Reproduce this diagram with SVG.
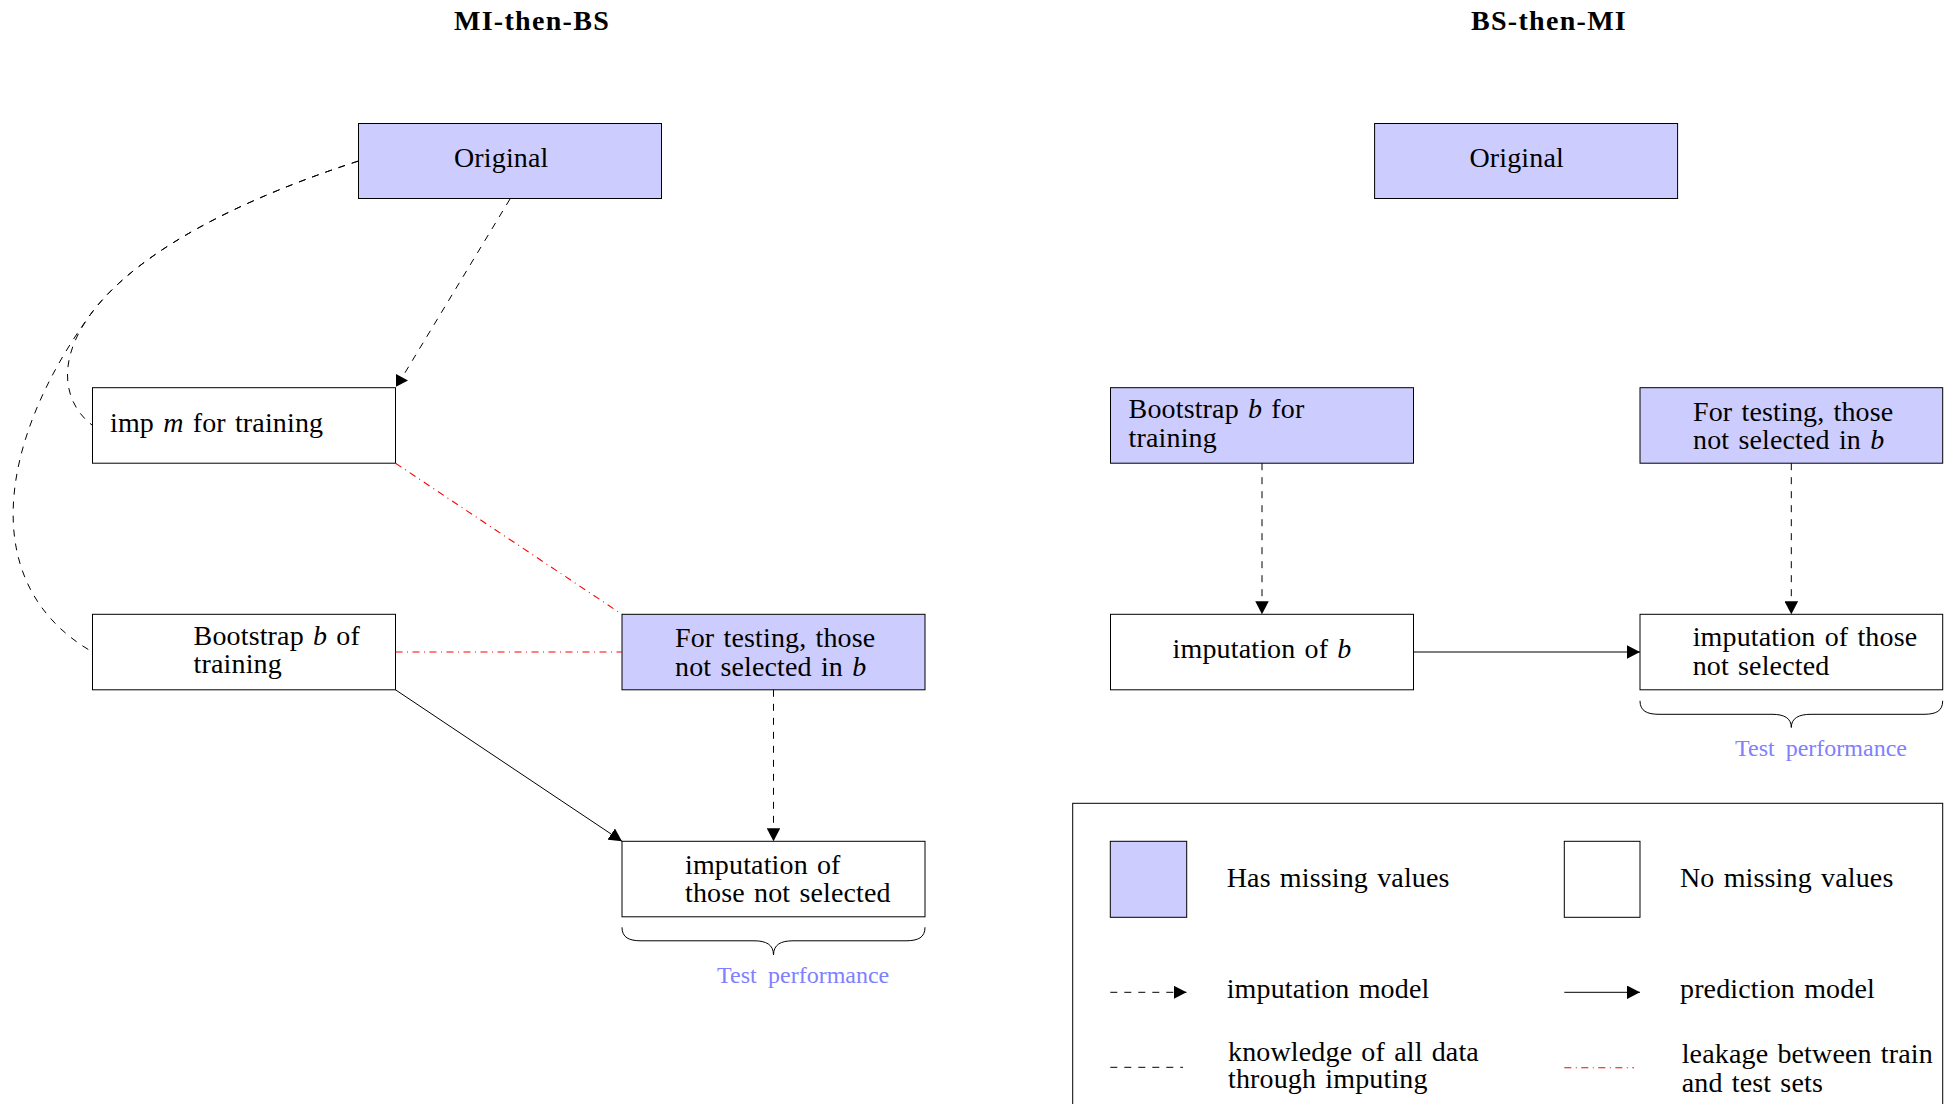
<svg xmlns="http://www.w3.org/2000/svg" width="1954" height="1104" viewBox="0 0 1954 1104">
  <style>
    .box{stroke:#000;stroke-width:1}
    .miss{fill:#ccccff}
    .full{fill:#ffffff}
    .t{font-family:"Liberation Serif","Times New Roman",serif;font-size:28px;letter-spacing:0.15px;word-spacing:2px;fill:#000}
    .title{font-weight:bold;letter-spacing:1.3px;text-anchor:middle}
    .mid{text-anchor:middle}
    .perf{font-size:24px;letter-spacing:0;word-spacing:0;fill:#8080ff}
    .c{fill:none;stroke:#000;stroke-width:1}
    .dash{stroke-dasharray:7 7}
    .leak{fill:none;stroke:#ff0000;stroke-width:1.1;stroke-dasharray:7 4.5 1 4.5}
    .brace{fill:none;stroke:#000;stroke-width:1}
  </style>
  <defs>
    <marker id="tri" viewBox="0 0 13 13.5" refX="13" refY="6.75" markerWidth="13" markerHeight="13.5" markerUnits="userSpaceOnUse" orient="auto">
      <path d="M0,0 L13,6.75 L0,13.5 z" fill="#000"/>
    </marker>
  </defs>
  <rect width="1954" height="1104" fill="#fff"/>

  <!-- panel headings -->
  <text class="t title" x="532" y="30">MI-then-BS</text>
  <text class="t title" x="1549" y="30">BS-then-MI</text>

  <!-- left panel: MI-then-BS -->
  <g id="orig-left">
    <rect class="box miss" x="358.5" y="123.5" width="303" height="75"/>
    <text class="t" x="454" y="166.5">Original</text>
  </g>
  <g id="imp-m">
    <rect class="box full" x="92.5" y="387.7" width="303" height="75.5"/>
    <text class="t" x="110" y="431.6">imp <tspan font-style="italic">m</tspan> for training</text>
  </g>
  <g id="boot-left">
    <rect class="box full" x="92.5" y="614.3" width="303" height="75.5"/>
    <text class="t" x="193.6" y="645">Bootstrap <tspan font-style="italic">b</tspan> of</text>
    <text class="t" x="193.6" y="673.3">training</text>
  </g>
  <g id="test-left">
    <rect class="box miss" x="622" y="614.3" width="303" height="75.5"/>
    <text class="t" x="675" y="647.3">For testing, those</text>
    <text class="t" x="675" y="675.8">not selected in <tspan font-style="italic">b</tspan></text>
  </g>
  <g id="impute-test-left">
    <rect class="box full" x="622" y="841.3" width="303" height="75.5"/>
    <text class="t" x="685" y="874">imputation of</text>
    <text class="t" x="685" y="902.3">those not selected</text>
  </g>
  <g id="perf-left">
    <path class="brace" d="M622,927.3 C622,937.5 629,940.8 641,940.8 L754,940.8 C766,940.8 773.5,944.5 773.5,955 C773.5,944.5 781,940.8 793,940.8 L906,940.8 C918,940.8 925,937.5 925,927.3"/>
    <text class="t perf" x="717" y="983">Test<tspan x="768">performance</tspan></text>
  </g>

  <!-- right panel: BS-then-MI -->
  <g id="orig-right">
    <rect class="box miss" x="1374.6" y="123.5" width="303" height="75"/>
    <text class="t" x="1469.4" y="166.5">Original</text>
  </g>
  <g id="boot-right">
    <rect class="box miss" x="1110.5" y="387.7" width="303" height="75.5"/>
    <text class="t" x="1128.6" y="418.4">Bootstrap <tspan font-style="italic">b</tspan> for</text>
    <text class="t" x="1128.6" y="446.8">training</text>
  </g>
  <g id="test-right">
    <rect class="box miss" x="1640" y="387.7" width="302.7" height="75.5"/>
    <text class="t" x="1693" y="420.8">For testing, those</text>
    <text class="t" x="1693" y="449">not selected in <tspan font-style="italic">b</tspan></text>
  </g>
  <g id="impute-boot">
    <rect class="box full" x="1110.5" y="614.3" width="303" height="75.5"/>
    <text class="t mid" x="1262" y="658.4">imputation of <tspan font-style="italic">b</tspan></text>
  </g>
  <g id="impute-test-right">
    <rect class="box full" x="1640" y="614.3" width="302.7" height="75.5"/>
    <text class="t" x="1692.7" y="646">imputation of those</text>
    <text class="t" x="1692.7" y="675">not selected</text>
  </g>
  <g id="perf-right">
    <path class="brace" d="M1640,700.8 C1640,711 1647,714.3 1659,714.3 L1772,714.3 C1784,714.3 1791.3,718 1791.3,727.5 C1791.3,718 1799,714.3 1811,714.3 L1924,714.3 C1936,714.3 1942.7,711 1942.7,700.8"/>
    <text class="t perf" x="1735" y="755.5">Test<tspan x="1785.7">performance</tspan></text>
  </g>

  <!-- connectors -->
  <g id="connectors">
    <!-- knowledge of all data: Original to both training sets -->
    <path class="c dash" d="M358.5,161 C206.35,210.45 125.88,266.03 90.43,314.5 C54.98,362.98 64.55,404.35 92.5,425.4"/>
    <path class="c dash" d="M358.5,161 C206.35,210.45 125.88,266.03 90.43,314.5 C-1,440.1 -24.4,584.5 92.5,652"/>
    <!-- imputation model: Original to imp m -->
    <line class="c dash" x1="510" y1="199" x2="403" y2="376"/>
    <polygon points="396,374 396,386.8 408,380.4" fill="#000"/>
    <!-- leakage links -->
    <line class="leak" x1="395.5" y1="463.2" x2="622" y2="614.3"/>
    <line class="leak" x1="395.5" y1="652" x2="622" y2="652"/>
    <!-- prediction model, left -->
    <line class="c" x1="395.5" y1="689.8" x2="622" y2="841.3" marker-end="url(#tri)"/>
    <!-- imputation model, left -->
    <line class="c dash" x1="773.5" y1="689.8" x2="773.5" y2="841.3" marker-end="url(#tri)"/>
    <!-- right panel links -->
    <line class="c dash" x1="1262" y1="463.2" x2="1262" y2="614.3" marker-end="url(#tri)"/>
    <line class="c dash" x1="1791.3" y1="463.2" x2="1791.3" y2="614.3" marker-end="url(#tri)"/>
    <line class="c" x1="1413.5" y1="652" x2="1640" y2="652" marker-end="url(#tri)"/>
  </g>

  <!-- legend -->
  <g id="legend">
    <rect x="1072.7" y="803.3" width="870" height="330" fill="none" stroke="#000" stroke-width="1"/>
    <rect class="box miss" x="1110.3" y="841.3" width="76.4" height="76"/>
    <text class="t" x="1226.7" y="886.7">Has missing values</text>
    <rect class="box full" x="1564.3" y="841.3" width="75.7" height="76"/>
    <text class="t" x="1680" y="886.7">No missing values</text>
    <line class="c dash" x1="1110.3" y1="992.3" x2="1186.5" y2="992.3" marker-end="url(#tri)"/>
    <text class="t" x="1226.7" y="998">imputation model</text>
    <line class="c" x1="1564.3" y1="992.3" x2="1640" y2="992.3" marker-end="url(#tri)"/>
    <text class="t" x="1680" y="998">prediction model</text>
    <line class="c dash" x1="1110.3" y1="1067.3" x2="1183" y2="1067.3"/>
    <text class="t" x="1228" y="1060.7">knowledge of all data</text>
    <text class="t" x="1228" y="1088.3">through imputing</text>
    <line class="leak" x1="1564.3" y1="1067.7" x2="1634" y2="1067.7"/>
    <text class="t" x="1681.7" y="1063.3">leakage between train</text>
    <text class="t" x="1681.7" y="1091.7">and test sets</text>
  </g>
</svg>
